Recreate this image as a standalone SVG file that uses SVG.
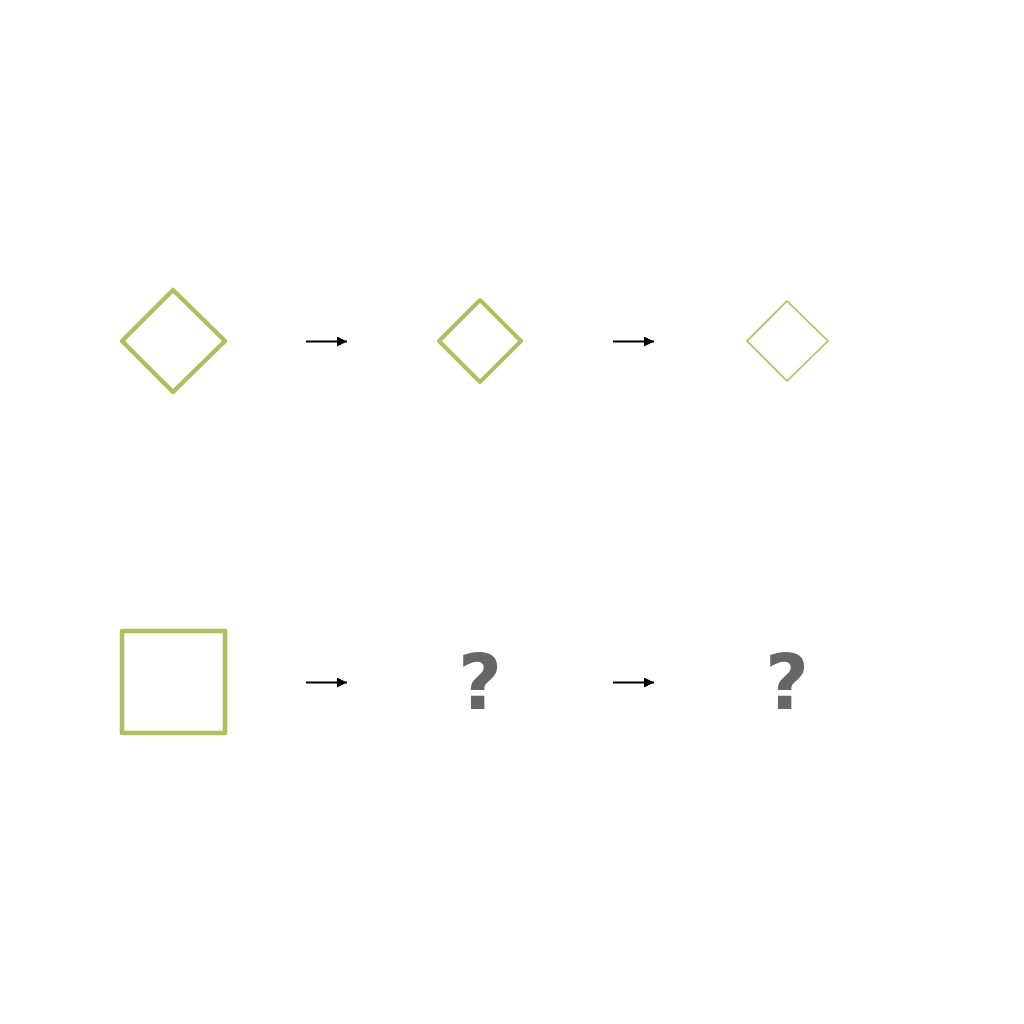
<svg xmlns="http://www.w3.org/2000/svg" width="1024" height="1024" viewBox="0 0 1024 1024">
<defs>
<style>
.shape{fill:none;stroke:#afbf5f;stroke-linejoin:round;stroke-linecap:round}
.arrow{stroke:#000;stroke-width:2;fill:none}
.q{font-family:"DejaVu Sans",sans-serif;font-weight:bold;font-size:76px;fill:#666;text-anchor:middle}
</style>
<marker id="ah" viewBox="0 0 10 10" refX="10" refY="5" markerWidth="5" markerHeight="5" orient="auto" markerUnits="strokeWidth">
<path d="M0,0 L10,5 L0,10 z" fill="#000"/>
</marker>
</defs>
<rect width="1024" height="1024" fill="#fff"/>
<g id="diamond1"><polygon class="shape" stroke-width="4.5" points="173,290 225,341 173,392 122,341"/></g>
<g id="diamond2"><polygon class="shape" stroke-width="4" points="480,300 521,341 480,382 439,341"/></g>
<g id="diamond3"><polygon class="shape" stroke="#a9b96a" stroke-width="1.7" points="787,301 828,341 787,381 747,341"/></g>
<g id="square1"><rect class="shape" stroke-width="4.5" x="122" y="631" width="103" height="102"/></g>
<g id="q1"><text class="q" x="480" y="709">?</text></g>
<g id="q2"><text class="q" x="787" y="709">?</text></g>
<g id="connectors">
<line class="arrow" x1="306" y1="341.5" x2="347" y2="341.5" marker-end="url(#ah)"/>
<line class="arrow" x1="613" y1="341.5" x2="654" y2="341.5" marker-end="url(#ah)"/>
<line class="arrow" x1="306" y1="682.5" x2="347" y2="682.5" marker-end="url(#ah)"/>
<line class="arrow" x1="613" y1="682.5" x2="654" y2="682.5" marker-end="url(#ah)"/>
</g>
</svg>
